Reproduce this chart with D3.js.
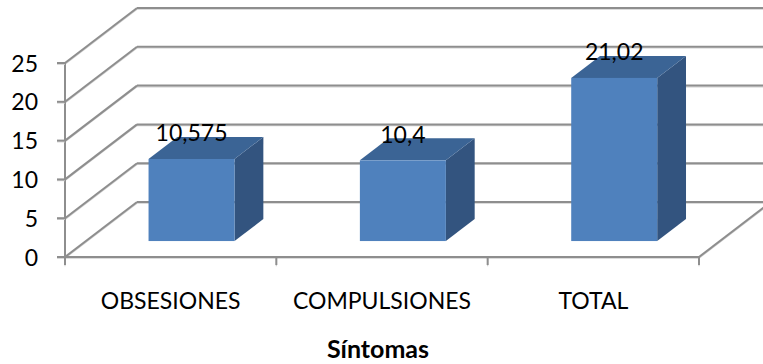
<!DOCTYPE html>
<html><head><meta charset="utf-8">
<script src="https://cdn.jsdelivr.net/npm/d3@7"></script>
<style>
body{margin:0;background:#fff}
svg{display:block}
text{font-family:Lato,'Open Sans',sans-serif;fill:#000}
</style>
</head><body>
<svg id="c" width="763" height="364"></svg>
<script>
const categories = ["OBSESIONES", "COMPULSIONES", "TOTAL"];
const values = [10.575, 10.4, 21.02];
const valueLabels = ["10,575", "10,4", "21,02"];
const yTicks = [0, 5, 10, 15, 20, 25];
const xTitle = "Síntomas";

const W = 763, H = 364;
const svg = d3.select("#c");
const x0 = 65, x1 = 699;
const y = d3.scaleLinear().domain([0, 25]).range([257, 63]);
const x = d3.scaleBand().domain(categories).range([x0, x1]);
const DX = 72, DY = -55;          // full depth offset of the floor/walls
const dFront = 0.29, dBack = 0.69; // bar depth placement (fractions)
const barW = 86;
const gridCol = "#8e8e8e", shadowCol = "#d0d0d0";

const g = svg.append("g");

function line(x1_, y1_, x2_, y2_, w) {
  g.append("line").attr("x1", x1_).attr("y1", y1_ + 1.2).attr("x2", x2_).attr("y2", y2_ + 1.2)
    .attr("stroke", shadowCol).attr("stroke-width", 1.2);
  g.append("line").attr("x1", x1_).attr("y1", y1_).attr("x2", x2_).attr("y2", y2_)
    .attr("stroke", gridCol).attr("stroke-width", w || 2);
}

// back wall gridlines + left wall diagonals
yTicks.forEach(t => {
  line(x0 + DX, y(t) + DY, W + 20, y(t) + DY);
  line(x0, y(t), x0 + DX, y(t) + DY);
});
// floor front edge and right diagonal
line(x0, y(0), x1, y(0));
line(x1, y(0), x1 + DX, y(0) + DY);
// vertical axis
line(x0, y(25), x0, y(0) + 3);
// y ticks
yTicks.forEach(t => line(x0 - 8, y(t), x0, y(t)));
// category boundary ticks
const edges = categories.map(c => x(c)).concat([x(categories[categories.length - 1]) + x.bandwidth()]);
edges.forEach(e => line(e, y(0), e, y(0) + 8));

// y tick labels
svg.append("g").selectAll("text").data(yTicks).join("text")
  .attr("x", 38).attr("y", d => y(d) + 8.5)
  .attr("text-anchor", "end").attr("font-size", 23).text(d => d);

// bars
const ddx = DX * (dBack - dFront), ddy = DY * (dBack - dFront);
const bars = svg.append("g");
categories.forEach((c, i) => {
  const cx = x(c) + x.bandwidth() / 2 + DX * dFront;
  const l = cx - barW / 2, r = cx + barW / 2;
  const yt = y(values[i]) + DY * dFront, yb = y(0) + DY * dFront;
  // side
  bars.append("polygon").attr("points", [[r, yt], [r + ddx, yt + ddy], [r + ddx, yb + ddy], [r, yb]].map(p => p.join(",")).join(" "))
    .attr("fill", "#33547f");
  // top
  bars.append("polygon").attr("points", [[l, yt], [r, yt], [r + ddx, yt + ddy], [l + ddx, yt + ddy]].map(p => p.join(",")).join(" "))
    .attr("fill", "#3b6495");
  // front
  bars.append("rect").attr("x", l).attr("y", yt).attr("width", barW).attr("height", yb - yt)
    .attr("fill", "#4f81bd");
  // value label
  bars.append("text").attr("x", cx).attr("y", yt + ddy + 4.5)
    .attr("text-anchor", "middle").attr("font-size", 23).text(valueLabels[i]);
});

// category labels
svg.append("g").selectAll("text").data(categories).join("text")
  .attr("x", d => x(d) + x.bandwidth() / 2).attr("y", 309)
  .attr("text-anchor", "middle").attr("font-size", 23).text(d => d);

// axis title
svg.append("text").attr("x", 378).attr("y", 358).attr("text-anchor", "middle")
  .attr("font-size", 25).attr("font-weight", "bold").text(xTitle);
</script>
</body></html>
